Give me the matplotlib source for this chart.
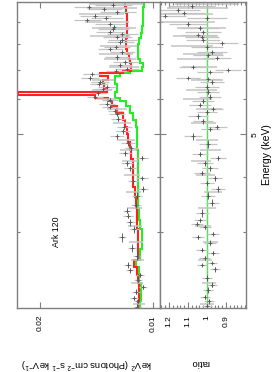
import numpy as np
import matplotlib
matplotlib.use("Agg")
import matplotlib.pyplot as plt
from matplotlib.ticker import FixedLocator, NullLocator, MultipleLocator

plt.rcParams['font.family'] = ['Liberation Sans', 'DejaVu Sans']
plt.rcParams['mathtext.default'] = 'regular'

# model histograms (energy bin edges in keV, values in keV^2 Photons cm^-2 s^-1 keV^-1)
model_edges = [2.0, 2.1, 2.2, 2.3, 2.4, 2.5, 2.6, 2.75, 2.9, 3.05, 3.2, 3.4, 3.6, 3.8,
               4.0, 4.2, 4.4, 4.6, 4.8, 5.0, 5.2, 5.4, 5.6, 5.8, 5.95, 6.05, 6.14, 6.25,
               6.35, 6.5, 6.65, 6.78, 6.9, 6.96, 7.1, 7.25, 7.4, 7.6, 7.8, 8.0, 8.25, 8.5,
               8.8, 9.1, 9.4, 9.7, 10.0]
model_red = [0.01096, 0.0109, 0.0109, 0.01096, 0.01103, 0.01123, 0.01096, 0.01096, 0.01096,
             0.01103, 0.01103, 0.0111, 0.01116, 0.0113, 0.0113, 0.0113, 0.01143, 0.0115,
             0.01165, 0.01172, 0.01187, 0.01202, 0.01247, 0.01285, 0.01318, 0.01426, 0.0228,
             0.01326, 0.0135, 0.01358, 0.01318, 0.01384, 0.01202, 0.01143, 0.01143, 0.0115,
             0.0116, 0.0117, 0.01178, 0.01178, 0.0117, 0.0117, 0.01172, 0.0117, 0.01178, 0.01187]
model_green = [0.01083, 0.01076, 0.01076, 0.0109, 0.0109, 0.0111, 0.01083, 0.0107, 0.0107,
               0.01083, 0.0109, 0.01096, 0.01096, 0.01096, 0.01096, 0.01096, 0.01096, 0.011,
               0.01103, 0.01103, 0.0111, 0.0113, 0.0115, 0.01178, 0.01224, 0.01262, 0.01262,
               0.01247, 0.01247, 0.01262, 0.01262, 0.01224, 0.0115, 0.0107, 0.01063, 0.01083,
               0.01096, 0.01096, 0.01096, 0.0109, 0.01076, 0.0107, 0.01063, 0.01063, 0.0106, 0.01056]

# unfolded spectrum, dark data set
spec_e = [2.03, 2.09, 2.13, 2.20, 2.25, 2.34, 2.40, 2.46, 2.53, 2.65, 2.76, 2.92, 3.05, 3.16,
          3.27, 3.36, 3.45, 3.63, 3.76, 3.92, 3.98, 4.19, 4.30, 4.42, 4.53, 4.65, 4.77, 4.95,
          5.08, 5.20, 5.43, 5.55, 5.65, 5.78, 5.87, 5.99, 6.09, 6.20, 6.34, 6.41, 6.50, 6.58,
          6.71, 6.86, 6.95, 7.03, 7.18, 7.29, 7.48, 7.68, 7.80, 7.90, 8.09, 8.20, 8.30, 8.43,
          8.55, 8.65, 8.78, 8.88, 9.07, 9.18, 9.30, 9.45, 9.60, 9.70, 9.85]
spec_f = [0.01100, 0.01096, 0.01123, 0.01110, 0.01063, 0.01096, 0.01083, 0.01150, 0.01165,
          0.01100, 0.01137, 0.01209, 0.01120, 0.01150, 0.01165, 0.01172, 0.01110, 0.01103,
          0.01063, 0.01130, 0.01070, 0.01150, 0.01172, 0.01070, 0.01187, 0.01140, 0.01165,
          0.01247, 0.01202, 0.01190, 0.01239, 0.01247, 0.01260, 0.01302, 0.01326, 0.01302,
          0.01426, 0.01400, 0.01358, 0.01326, 0.01390, 0.01384, 0.01471, 0.01453, 0.01250,
          0.01172, 0.01224, 0.01187, 0.01247, 0.01209, 0.01302, 0.01250, 0.01224, 0.01210,
          0.01247, 0.01209, 0.01300, 0.01278, 0.01270, 0.01302, 0.01499, 0.01330, 0.01426,
          0.01247, 0.01350, 0.01481, 0.01280]
spec_ferr = [0.00025, 0.00024, 0.00026, 0.00025, 0.00027, 0.00026, 0.00028, 0.00027, 0.00029,
             0.00028, 0.0003, 0.00031, 0.0003, 0.00032, 0.00033, 0.00032, 0.00034, 0.00035,
             0.00036, 0.00037, 0.00038, 0.0004, 0.00041, 0.00043, 0.00044, 0.00046, 0.00048,
             0.0005, 0.00052, 0.00054, 0.00056, 0.00058, 0.0006, 0.00062, 0.00064, 0.00066,
             0.0007, 0.00072, 0.00074, 0.00076, 0.00076, 0.00078, 0.0008, 0.00082, 0.00084,
             0.00086, 0.00088, 0.0009, 0.00092, 0.00095, 0.00098, 0.001, 0.00103, 0.00106,
             0.00109, 0.00112, 0.00115, 0.00118, 0.0012, 0.00123, 0.00126, 0.0013, 0.00133,
             0.00136, 0.0014, 0.00143, 0.00146]

# second (light) data set
light_e = [2.06, 2.3, 2.6, 2.85, 3.1, 3.4, 3.7, 4.05, 4.35, 4.6, 4.85, 5.3, 5.7, 6.0, 6.3,
           6.65, 7.1, 7.4, 7.6, 7.95, 8.35, 8.7, 9.0, 9.35, 9.65, 9.9]
light_f = [0.0109, 0.01105, 0.0110, 0.0111, 0.01115, 0.0112, 0.01125, 0.0114, 0.0115, 0.0116,
           0.0118, 0.0121, 0.0125, 0.0133, 0.0137, 0.0136, 0.0120, 0.0123, 0.0126, 0.0124,
           0.0131, 0.0128, 0.0134, 0.0138, 0.0130, 0.0127]
light_ferr = [0.0004, 0.0004, 0.00042, 0.00045, 0.00047, 0.0005, 0.00052, 0.00055, 0.00058,
              0.0006, 0.00065, 0.0007, 0.00075, 0.0008, 0.00085, 0.0009, 0.0011, 0.0012,
              0.0013, 0.0014, 0.0016, 0.0017, 0.0018, 0.0019, 0.002, 0.0021]
light_ratio = [1.0, 0.99, 1.01, 0.98, 1.02, 1.0, 0.97, 1.01, 1.03, 0.98, 1.0, 1.02, 0.99,
               1.05, 1.03, 1.0, 1.04, 1.06, 1.02, 1.08, 1.06, 1.03, 1.1, 1.12, 1.05, 1.0]
light_rerr = [0.035, 0.036, 0.038, 0.04, 0.042, 0.045, 0.048, 0.05, 0.053, 0.056, 0.06, 0.065,
              0.07, 0.075, 0.08, 0.085, 0.09, 0.1, 0.105, 0.11, 0.12, 0.13, 0.14, 0.15, 0.16, 0.17]

# ratio panel, dark data set
ratio_e = [2.04, 2.09, 2.14, 2.22, 2.28, 2.36, 2.47, 2.53, 2.56, 2.62, 2.69, 2.74, 2.84, 2.92,
           2.98, 3.08, 3.14, 3.19, 3.32, 3.50, 3.63, 3.76, 3.88, 3.98, 4.09, 4.19, 4.30, 4.42,
           4.51, 4.75, 4.95, 5.13, 5.21, 5.35, 5.49, 5.62, 5.72, 5.84, 5.95, 6.09, 6.25, 6.41,
           6.56, 6.69, 6.72, 6.93, 7.01, 7.11, 7.45, 7.56, 7.68, 7.88, 8.05, 8.17, 8.30, 8.38,
           8.52, 8.70, 8.88, 9.16, 9.30, 9.42, 9.55, 9.75]
ratio_v = [1.0, 0.99, 1.011, 0.995, 0.974, 1.0, 0.958, 1.026, 0.974, 1.011, 0.968, 1.026,
           0.984, 1.047, 0.968, 1.011, 1.053, 1.037, 1.026, 0.974, 0.995, 0.942, 1.0, 0.958,
           1.026, 0.984, 1.011, 0.942, 1.037, 0.995, 1.074, 0.984, 0.947, 1.021, 1.047, 1.0,
           0.97, 1.037, 1.02, 0.984, 0.995, 1.0, 0.974, 0.995, 1.10, 0.984, 0.889, 1.074,
           0.947, 0.995, 0.974, 1.0, 0.921, 1.021, 1.026, 1.047, 1.021, 1.037, 1.10, 1.0,
           1.22, 1.12, 1.15, 1.08]
ratio_err = [0.025, 0.025, 0.026, 0.026, 0.027, 0.027, 0.028, 0.028, 0.029, 0.029, 0.03, 0.03,
             0.031, 0.031, 0.032, 0.032, 0.033, 0.033, 0.034, 0.035, 0.036, 0.037, 0.038,
             0.039, 0.04, 0.041, 0.042, 0.043, 0.044, 0.046, 0.048, 0.05, 0.05, 0.052, 0.054,
             0.055, 0.056, 0.057, 0.058, 0.06, 0.06, 0.062, 0.063, 0.064, 0.065, 0.068, 0.07,
             0.072, 0.075, 0.078, 0.08, 0.082, 0.085, 0.088, 0.09, 0.092, 0.095, 0.1, 0.1,
             0.105, 0.11, 0.11, 0.115, 0.12]

flux_ticks = [0.01, 0.02]
ratio_ticks = [0.9, 1.0, 1.1, 1.2]
ratio_labels = ['0.9', '1', '1.1', '1.2']


def half_widths(e):
    e = np.asarray(e)
    d = np.diff(e)
    return 0.5 * np.concatenate([[d[0]], np.minimum(d[:-1], d[1:]), [d[-1]]])


W, H = 273, 372
fig = plt.figure(figsize=(W / 100, H / 100), dpi=100)
ax1 = fig.add_axes([17 / W, 64 / H, 143 / W, 306 / H])
ax2 = fig.add_axes([160 / W, 64 / H, 86 / W, 306 / H])

dark, light = '#555555', '#c4c4c4'

# spectrum panel (energy on the vertical axis)
ax1.errorbar(light_f, light_e, xerr=light_ferr, fmt='none', ecolor=light, elinewidth=1.1)
ax1.errorbar(spec_f, spec_e, xerr=spec_ferr, fmt='none', ecolor=light, elinewidth=0.9)
ax1.errorbar(spec_f, spec_e, yerr=half_widths(spec_e), fmt='none', ecolor=dark, elinewidth=0.6)
ax1.plot(spec_f, spec_e, '+', color=dark, ms=3, mew=0.6)
ax1.stairs(model_green, model_edges, orientation='horizontal', baseline=None,
           color='#22ee22', lw=1.5)
ax1.stairs(model_red, model_edges, orientation='horizontal', baseline=None,
           color='#ff2020', lw=1.5)
ax1.text(0.0180, 3.0, 'Ark 120', rotation=90, fontsize=6.3, ha='center', va='center')

# ratio panel
ax2.axvline(1.0, color='#44ee44', lw=1.0, zorder=1)
ax2.errorbar(light_ratio, light_e, xerr=light_rerr, fmt='none', ecolor=light, elinewidth=1.1)
ax2.errorbar(ratio_v, ratio_e, xerr=ratio_err, fmt='none', ecolor=light, elinewidth=0.9)
ax2.errorbar(ratio_v, ratio_e, yerr=half_widths(ratio_e), fmt='none', ecolor=dark, elinewidth=0.6)
ax2.plot(ratio_v, ratio_e, '+', color=dark, ms=3, mew=0.6)

for ax in (ax1, ax2):
    ax.set_yscale('log')
    ax.set_ylim(2.02, 9.98)
    ax.yaxis.set_major_locator(FixedLocator([5]))
    ax.yaxis.set_minor_locator(FixedLocator([3, 4, 6, 7, 8, 9]))
    ax.yaxis.set_major_formatter(plt.FixedFormatter(['5']))
    ax.yaxis.set_minor_formatter(plt.NullFormatter())
    ax.tick_params(which='both', direction='in', top=True, bottom=True, left=True, right=True,
                   color='#7f7f7f', width=0.8)
    ax.tick_params(which='major', length=4)
    ax.tick_params(which='minor', length=2)
    ax.tick_params(axis='x', labelrotation=90, labelsize=6, pad=5)
    for s in ax.spines.values():
        s.set_color('#7f7f7f')
        s.set_linewidth(1.0)

ax1.set_xscale('log')
ax1.set_xlim(0.0230, 0.00957)
ax1.xaxis.set_major_locator(FixedLocator(flux_ticks))
ax1.xaxis.set_minor_locator(NullLocator())
ax1.xaxis.set_major_formatter(plt.FixedFormatter(['0.01', '0.02']))
ax1.tick_params(axis='y', labelleft=False)

ax2.set_xlim(1.247, 0.795)
ax2.xaxis.set_major_locator(FixedLocator(ratio_ticks))
ax2.xaxis.set_minor_locator(MultipleLocator(0.02))
ax2.xaxis.set_major_formatter(plt.FixedFormatter(ratio_labels))
ax2.tick_params(axis='y', labelleft=False, labelright=True, labelrotation=90, labelsize=6, pad=4)

fig.text(86 / W, 1 - 363 / H, r'keV$^2$ (Photons cm$^{-2}$ s$^{-1}$ keV$^{-1}$)', rotation=180,
         fontsize=6.8, ha='center', va='center')
fig.text(200 / W, 1 - 363 / H, 'ratio', rotation=180, fontsize=6.8, ha='center', va='center')
fig.text(267 / W, 1 - 155 / H, 'Energy (keV)', rotation=90, fontsize=7.5, ha='center',
         va='center')

fig.savefig('out.png', dpi=100)
